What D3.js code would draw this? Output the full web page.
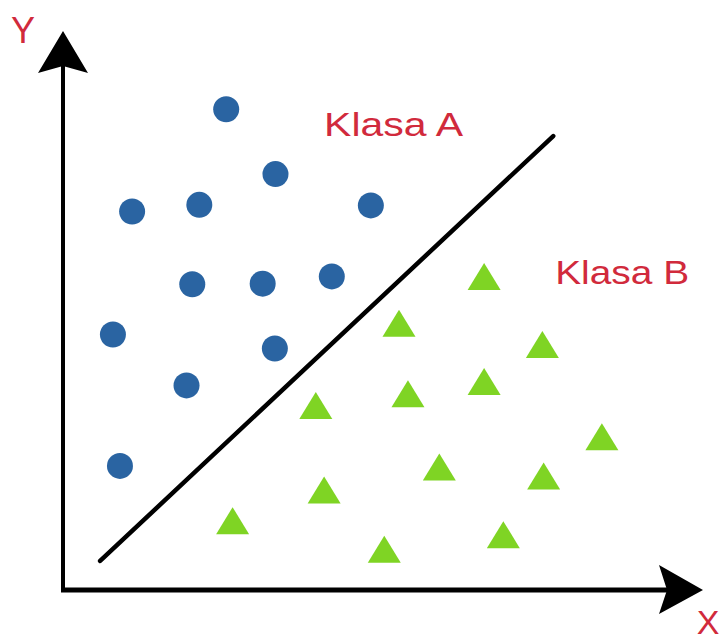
<!DOCTYPE html>
<html>
<head>
<meta charset="utf-8">
<script src="https://cdn.jsdelivr.net/npm/d3@7"></script>
<style>
  html, body { margin: 0; padding: 0; background: #ffffff; }
  svg { display: block; }
</style>
</head>
<body>
<svg id="chart" width="721" height="642"></svg>
<script>
// ---- data (abstract units, 0..10 on both axes) ----
const classA_x = [2.55, 3.32, 2.13, 1.08, 4.81, 2.02, 3.12, 4.20, 0.78, 3.31, 1.93, 0.89];
const classA_y = [8.60, 7.44, 6.89, 6.77, 6.88, 5.47, 5.48, 5.61, 4.57, 4.32, 3.66, 2.22];
const classB_x = [6.58, 5.25, 7.49, 6.58, 5.39, 3.95, 8.42, 5.88, 7.51, 4.08, 2.65, 6.88, 5.02];
const classB_y = [5.61, 4.77, 4.39, 3.73, 3.51, 3.30, 2.74, 2.20, 2.04, 1.79, 1.24, 0.99, 0.73];
const boundary_x = [0.58, 7.66];
const boundary_y = [0.52, 8.12];
const labels = ["Klasa A", "Klasa B"];
const label_x = [4.08, 7.69];
const label_y = [8.12, 5.48];
const axisLabels = ["X", "Y"];

const svg = d3.select("#chart");
const x = d3.scaleLinear().domain([0, 10]).range([63, 703]);
const y = d3.scaleLinear().domain([0, 10]).range([590, 31]);

const red = "#d12a3c";
const blue = "#2a64a2";
const green = "#7fd424";

// axes
svg.append("line")
  .attr("x1", x(0)).attr("y1", y(0) + 2)
  .attr("x2", x(0)).attr("y2", y(10) + 30)
  .attr("stroke", "#000").attr("stroke-width", 4);
svg.append("line")
  .attr("x1", x(0) - 2).attr("y1", y(0))
  .attr("x2", x(10) - 36).attr("y2", y(0))
  .attr("stroke", "#000").attr("stroke-width", 5);

// arrowheads
const yTipX = x(0), yTipY = y(10);
svg.append("path")
  .attr("d", `M${yTipX},${yTipY} L${yTipX + 25},${yTipY + 42} L${yTipX},${yTipY + 35} L${yTipX - 25},${yTipY + 42} Z`)
  .attr("fill", "#000");
const xTipX = x(10), xTipY = y(0);
svg.append("path")
  .attr("d", `M${xTipX},${xTipY} L${xTipX - 44},${xTipY - 25} L${xTipX - 36},${xTipY} L${xTipX - 44},${xTipY + 24} Z`)
  .attr("fill", "#000");

// axis labels
svg.append("text").text(axisLabels[1])
  .attr("x", 23).attr("y", 43)
  .attr("text-anchor", "middle")
  .attr("font-family", "Liberation Sans, Arial, sans-serif")
  .attr("font-size", 36).attr("fill", red);
svg.append("text").text(axisLabels[0])
  .attr("x", 708).attr("y", 634)
  .attr("text-anchor", "middle")
  .attr("font-family", "Liberation Sans, Arial, sans-serif")
  .attr("font-size", 34).attr("fill", red);

// boundary line
svg.append("line")
  .attr("x1", x(boundary_x[0])).attr("y1", y(boundary_y[0]))
  .attr("x2", x(boundary_x[1])).attr("y2", y(boundary_y[1]))
  .attr("stroke", "#000").attr("stroke-width", 4.5).attr("stroke-linecap", "round");

// class A circles
const ptsA = classA_x.map((v, i) => ({x: v, y: classA_y[i]}));
svg.append("g").selectAll("circle").data(ptsA).join("circle")
  .attr("cx", d => x(d.x)).attr("cy", d => y(d.y))
  .attr("r", 13).attr("fill", blue);

// class B triangles
const ptsB = classB_x.map((v, i) => ({x: v, y: classB_y[i]}));
const tw = 33, th = 27;
svg.append("g").selectAll("path").data(ptsB).join("path")
  .attr("d", d => {
    const cx = x(d.x), cy = y(d.y);
    return `M${cx},${cy - th / 2} L${cx + tw / 2},${cy + th / 2} L${cx - tw / 2},${cy + th / 2} Z`;
  })
  .attr("fill", green);

// class labels
const labelWidths = [139, 134];
svg.append("g").selectAll("text").data(labels).join("text")
  .text(d => d)
  .attr("x", (d, i) => x(label_x[i]))
  .attr("y", (d, i) => y(label_y[i]))
  .attr("font-family", "Liberation Sans, Arial, sans-serif")
  .attr("font-size", 34)
  .attr("textLength", (d, i) => labelWidths[i])
  .attr("lengthAdjust", "spacingAndGlyphs")
  .attr("fill", red);
</script>
</body>
</html>
